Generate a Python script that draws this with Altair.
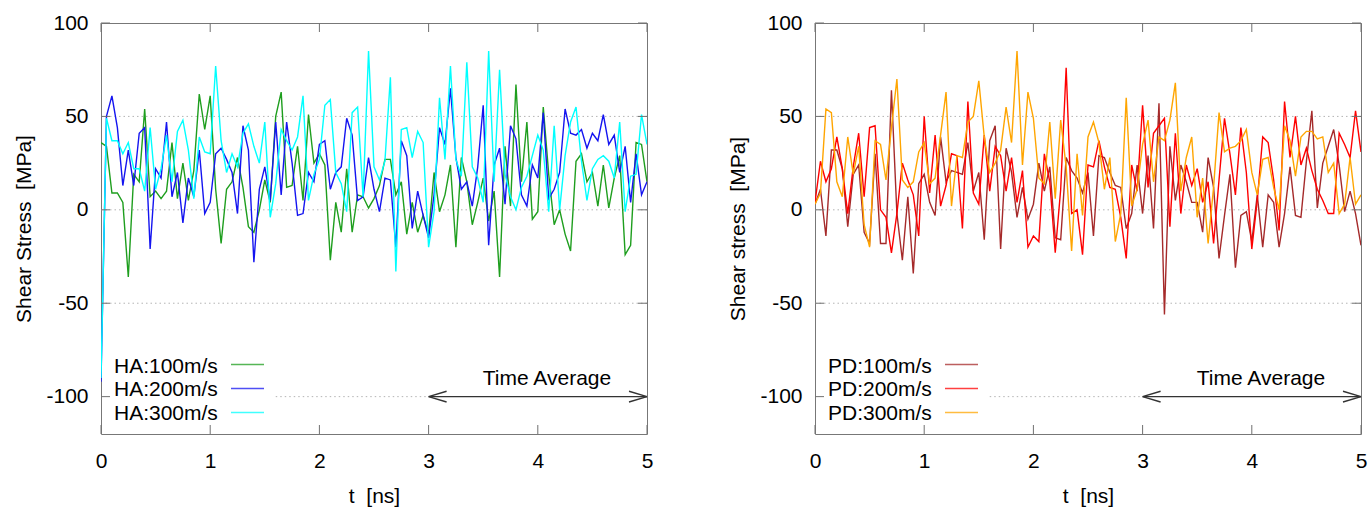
import altair as alt
import pandas as pd

FONT = "Liberation Sans"

T_STEP = 0.05
N_POINTS = 101

ha100 = [36, 34, 9, 9, 4, -36, 19, 15, 54, 7,
         10, 6, 10, 36, 6, 25, 5, 21, 62, 43,
         61, 11, -18, 11, 15, 28, 12, -9, -12, 0,
         16, 4, 50, 63, 12, 13, 34, 5, 51, 25,
         30, 24, -27, 4, -12, 22, -12, 8, 7, 1,
         6, 13, 27, 27, 8, 15, -13, 4, -12, -3,
         -13, 20, -1, 8, 24, -20, 28, 15, -8, 4,
         17, -6, 10, -36, 34, 2, 67, 15, 47, -5,
         -1, 55, 19, -8, 0, -13, -22, 26, 30, 15,
         20, 2, 24, 1, 17, 29, -24, -19, 36, 35,
         15]
ha200 = [-92, 50, 61, 44, 13, 32, 13, 41, 44, -21,
         22, 17, 47, 7, 20, -7, 17, 7, 32, -2,
         4, 30, 33, 27, 20, -2, 45, 32, -28, 11,
         23, 5, 47, 8, 47, 25, -3, -2, 20, 15,
         35, 37, 11, 20, 23, 49, 40, 5, 7, 28,
         11, -1, 17, 16, -20, 37, 29, -10, 10, -3,
         -15, 8, 44, 35, 65, 28, 11, 15, 2, 23,
         56, -19, 24, 33, 3, 45, 38, 8, 2, 24,
         17, 52, 6, 11, 20, 54, 41, 40, 43, 33,
         41, 37, 51, 35, 40, 20, 34, 4, 30, 8,
         15]
ha300 = [-90, 49, 37, 37, 30, 36, 22, 22, 10, 44,
         11, 22, 40, 15, 42, 48, 32, 6, 39, 31,
         30, 77, 37, 20, 30, 23, 41, 46, 34, 25,
         47, -4, 14, 43, 37, 32, 39, 61, 5, 19,
         27, 56, 59, 20, 14, -1, 52, 55, 7, 85,
         23, 16, 26, 71, -33, 43, 44, 28, 42, 36,
         -20, -1, 60, 27, 77, 27, 18, 79, 23, 17,
         4, 85, 15, 75, 19, 7, 0, 12, 18, 29,
         40, 32, -1, 45, 0, 29, 47, 55, 26, 5,
         22, 27, 29, 26, 17, 47, -1, 18, 19, 51,
         35]
pd100 = [3, 11, -14, 32, 32, 22, -9, 19, 24, -12,
         -18, 30, -18, -18, 64, -2, -27, 7, -34, 14,
         19, 4, -3, 39, 15, 21, 20, 19, 36, 10,
         20, -16, 37, 45, -21, 33, 20, -4, 12, -5,
         3, 25, 10, 23, -15, -16, 28, 21, 17, 9,
         20, -14, 29, 28, 20, 13, 12, -10, -2, 24,
         -2, 29, -10, 57, -56, 34, 5, 24, 15, 4,
         4, -12, 28, 12, -26, -3, 19, -31, -3, -1,
         -17, 8, -20, 8, 4, -20, -2, 23, -3, -4,
         26, 53, 1, 25, 34, 43, 24, -1, 10, -2,
         -19]
pd200 = [4, 26, 15, 22, 39, 22, -2, 23, 41, 7,
         44, 45, 0, -4, -23, -2, 25, 16, 8, -14,
         50, 9, 40, 2, 13, 30, 29, -10, 58, 9,
         3, 40, 10, 34, 29, 10, 28, 4, 21, -20,
         -14, -17, 30, 15, -23, 11, 76, -2, 0, -24,
         24, 23, 37, 23, 12, 11, -4, -26, 24, 10,
         56, 12, 41, 45, 49, -9, 41, -2, 24, 13,
         22, 4, 15, -18, 16, 49, 30, 8, 44, 20,
         -21, 5, 39, 36, 16, -11, 58, 28, 50, 24,
         33, 21, 11, 5, -2, -2, 41, 35, 28, 53,
         31]
pd300 = [3, 9, 54, 52, 15, 7, 39, 19, 34, -8,
         -20, 37, 35, 16, 44, 70, 16, 12, 15, 31,
         36, 14, 17, 40, 63, 2, 29, 28, 47, 50,
         69, 39, 20, 25, 32, 55, 36, 85, 24, 63,
         49, 17, 14, 47, 6, 48, 23, -22, 30, -3,
         39, 47, 36, 11, 28, -17, -2, 60, 2, 11,
         35, 48, 15, 39, 37, 48, 68, 10, 28, 39,
         -4, 17, -18, 12, 52, 31, 33, 34, 37, 43,
         20, 8, 27, 28, 12, 0, 45, 37, 18, 39,
         42, 42, 38, 39, 20, 25, -2, 3, 28, 3,
         8]

left_names = ["HA:100m/s", "HA:200m/s", "HA:300m/s"]
left_colors = ["#1e9e1e", "#1414f0", "#00ffff"]
right_names = ["PD:100m/s", "PD:200m/s", "PD:300m/s"]
right_colors = ["#a52a2a", "#ff0000", "#ffa500"]

x_ticks = [0, 1, 2, 3, 4, 5]
y_ticks = [-100, -50, 0, 50, 100]
grid_y = [-50, 0, 50, -100]
grid_t0 = [0, 0, 0, 1.6]
grid_t1 = [5, 5, 5, 3.0]
avg_start, avg_end, avg_level = 3.0, 5.0, -100
avg_label = "Time Average"

W, H = 546, 411
times = [round(i * T_STEP, 2) for i in range(N_POINTS)]

HYPHEN_LABEL = "datum.value < 0 ? '-' + abs(datum.value) : '' + datum.value"


def make_panel(names, colors, series, ytitle):
    xscale = alt.Scale(domain=[0, 5], nice=False, zero=False)
    yscale = alt.Scale(domain=[-120, 100], nice=False, zero=False)
    xaxis = alt.Axis(values=x_ticks, title="t\u00a0 [ns]", domain=False, ticks=False,
                     grid=False, labelPadding=16, labelFontSize=21, labelFont=FONT,
                     labelColor="black", titleFont=FONT, titleFontSize=21,
                     titleFontWeight="normal", titleColor="black",
                     titleBaseline="alphabetic", titleY=68, labelFlush=False,
                     labelOverlap=False, labelExpr=HYPHEN_LABEL)
    yaxis = alt.Axis(values=y_ticks, title=ytitle, domain=False, ticks=False,
                     grid=False, labelPadding=13, labelFontSize=21, labelFont=FONT,
                     labelColor="black", titleFont=FONT, titleFontSize=21,
                     titleFontWeight="normal", titleColor="black", titleAngle=270,
                     titleAlign="center", titleBaseline="alphabetic",
                     titleX=-71, titleY=H / 2, labelFlush=False, labelOverlap=False,
                     labelExpr=HYPHEN_LABEL)
    cscale = alt.Scale(domain=names, range=colors)

    def X(f):
        return alt.X(f, type="quantitative", scale=xscale, axis=xaxis)

    def Y(f):
        return alt.Y(f, type="quantitative", scale=yscale, axis=yaxis)

    layers = []
    grid_df = pd.DataFrame({"y": grid_y, "t0": grid_t0, "t1": grid_t1})
    layers.append(alt.Chart(grid_df).mark_rule(color="#b4b4b4", strokeWidth=1,
                                                strokeDash=[1.5, 3]).encode(
        x=X("t0"), x2="t1", y=Y("y")))

    for name, vals in zip(names, series):
        df = pd.DataFrame({"t": times, "v": vals, "series": name})
        layers.append(alt.Chart(df).mark_line(strokeWidth=1.4, clip=True).encode(
            x=X("t"), y=Y("v"),
            color=alt.Color("series:N", scale=cscale, legend=None)))

    # inward ticks on all four sides (gnuplot style)
    yt = pd.DataFrame({"v": y_ticks})
    xt = pd.DataFrame({"t": x_ticks})
    tick_style = dict(color="#707070", strokeWidth=1)
    layers.append(alt.Chart(yt).mark_rule(**tick_style).encode(
        x=alt.value(0), x2=alt.value(9), y=Y("v")))
    layers.append(alt.Chart(yt).mark_rule(**tick_style).encode(
        x=alt.value(W - 9), x2=alt.value(W), y=Y("v")))
    layers.append(alt.Chart(xt).mark_rule(**tick_style).encode(
        x=X("t"), y=alt.value(H), y2=alt.value(H - 9)))
    layers.append(alt.Chart(xt).mark_rule(**tick_style).encode(
        x=X("t"), y=alt.value(0), y2=alt.value(9)))

    # time-average arrow
    arr = pd.DataFrame({"t0": [avg_start], "t1": [avg_end], "y": [avg_level]})
    layers.append(alt.Chart(arr).mark_rule(color="#333333", strokeWidth=1.4).encode(
        x=X("t0"), x2="t1", y=Y("y")))
    layers.append(alt.Chart(arr).mark_point(shape="M0,0L2,-0.6M0,0L2,0.6", filled=False,
                                            size=324, strokeWidth=1.4, color="#333333",
                                            opacity=1).encode(x=X("t0"), y=Y("y")))
    layers.append(alt.Chart(arr).mark_point(shape="M0,0L-2,-0.6M0,0L-2,0.6", filled=False,
                                            size=324, strokeWidth=1.4, color="#333333",
                                            opacity=1).encode(x=X("t1"), y=Y("y")))
    lab = pd.DataFrame({"label": [avg_label]})
    layers.append(alt.Chart(lab).mark_text(font=FONT, fontSize=21, align="center",
                                           baseline="alphabetic", color="black").encode(
        x=alt.value(446), y=alt.value(361.5), text="label:N"))

    # key (text then line sample, like gnuplot)
    text_y = [349.5, 373, 396.5]
    line_y = [341.5, 365.5, 389.5]
    for k, name in enumerate(names):
        kd = pd.DataFrame({"series": [name]})
        layers.append(alt.Chart(kd).mark_text(font=FONT, fontSize=21, align="left",
                                              baseline="alphabetic", color="black").encode(
            x=alt.value(13), y=alt.value(text_y[k]), text="series:N"))
        layers.append(alt.Chart(kd).mark_rule(strokeWidth=1.5, opacity=0.75).encode(
            x=alt.value(130), x2=alt.value(163), y=alt.value(line_y[k]),
            color=alt.Color("series:N", scale=cscale, legend=None)))

    return alt.layer(*layers).properties(width=W, height=H)


left = make_panel(left_names, left_colors, [ha100, ha200, ha300], "Shear Stress\u00a0 [MPa]")
right = make_panel(right_names, right_colors, [pd100, pd200, pd300], "Shear stress\u00a0 [MPa]")

chart = alt.hconcat(left, right, spacing=168, bounds="flush").resolve_scale(
    color="independent", x="independent", y="independent"
).properties(
    autosize=alt.AutoSizeParams(type="none"),
    padding={"left": 101, "top": 23, "right": 1269, "bottom": 484},
    background="white",
).configure_view(stroke="#777777", strokeWidth=1)

chart.save("out.html", embed_options={"renderer": "svg", "actions": False})
